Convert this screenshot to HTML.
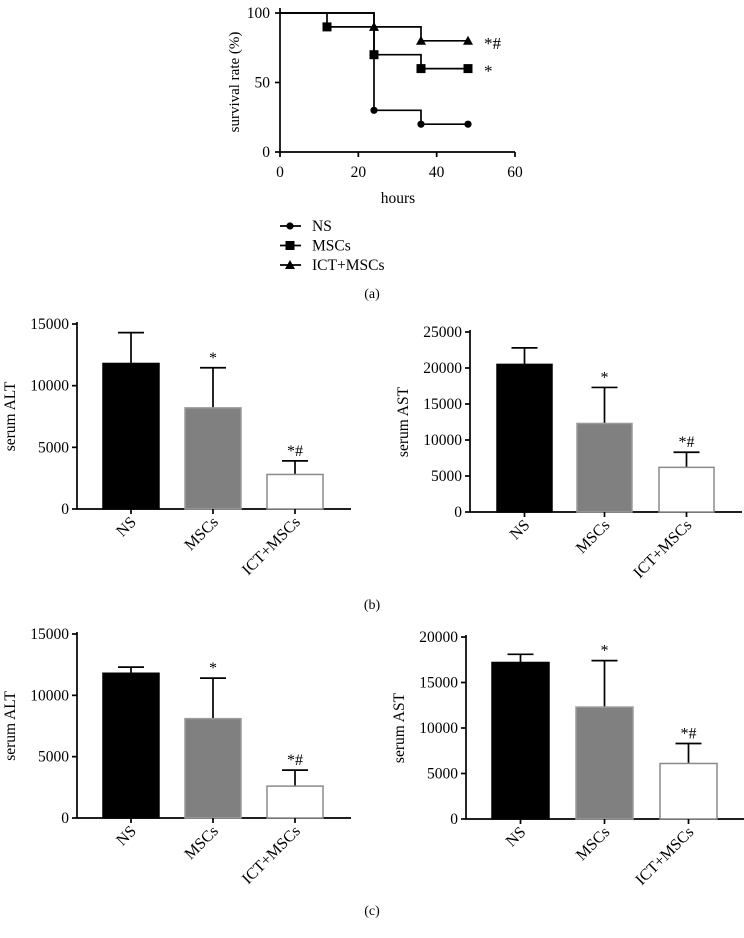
<!DOCTYPE html>
<html><head><meta charset="utf-8"><style>
html,body{margin:0;padding:0;background:#fff;}
svg{display:block;font-family:"Liberation Serif",serif;}
</style></head><body>
<svg id="s" width="744" height="938" viewBox="0 0 744 938"></svg>
<script>
// Survival data
const survHours = [0,12,24,36,48];
const survNS = [100,100,30,20,20];
const survMSC = [100,90,70,60,60];
const survICT = [100,100,90,80,80];
const survLabels = ["NS","MSCs","ICT+MSCs"];
const survAnn = ["","*","*#"];
const xTicks = [0,20,40,60];
const yTicks = [0,50,100];
// Bar data
const barCats = ["NS","MSCs","ICT+MSCs"];
const bAltVals = [11800,8200,2800];
const bAltErr = [2500,3250,1100];
const bAstVals = [20500,12300,6200];
const bAstErr = [2300,5000,2100];
const cAltVals = [11800,8100,2600];
const cAltErr = [500,3300,1300];
const cAstVals = [17200,12300,6100];
const cAstErr = [900,5100,2200];
const barAnn = ["","*","*#"];

const NS="http://www.w3.org/2000/svg";
const svg=document.getElementById('s');
function el(tag,attrs,parent,text){const e=document.createElementNS(NS,tag);for(const k in attrs)e.setAttribute(k,attrs[k]);if(text!==undefined)e.textContent=text;(parent||svg).appendChild(e);return e;}
const SW=1.7;
// ---- Survival chart ----
const sx=v=>280+v*(515-280)/60;
const sy=v=>152-v*(152-13)/100;
const gS=el('g',{});


el('line',{x1:280,y1:8,x2:280,y2:152,stroke:'#000','stroke-width':SW},gS);
el('line',{x1:280,y1:152,x2:515,y2:152,stroke:'#000','stroke-width':SW},gS);
yTicks.forEach(t=>{el('line',{x1:275,y1:sy(t),x2:280,y2:sy(t),stroke:'#000','stroke-width':SW},gS);
 const tx=el('text',{x:270,y:sy(t)+5,'text-anchor':'end','font-size':15.5},gS,String(t));});
xTicks.forEach(t=>{el('line',{x1:sx(t),y1:152,x2:sx(t),y2:157,stroke:'#000','stroke-width':SW},gS);
 const tx=el('text',{x:sx(t),y:177,'text-anchor':'middle','font-size':15.5},gS,String(t));});
const yt=el('text',{x:0,y:0,'text-anchor':'middle','font-size':15,transform:'translate(239,82) rotate(-90)'},gS,'survival rate (%)');

const xt=el('text',{x:398,y:203,'text-anchor':'middle','font-size':15.5},gS,'hours');

function marker(type,x,y,p){
 if(type==0)return el('circle',{cx:x,cy:y,r:3.6,fill:'#000'},p);
 if(type==1)return el('rect',{x:x-4.5,y:y-4.5,width:9,height:9,fill:'#000'},p);
 return el('polygon',{points:`${x},${y-5} ${x-5},${y+4} ${x+5},${y+4}`,fill:'#000'},p);
}
[survNS,survMSC,survICT].forEach((ser,si)=>{
 let d=`M${sx(survHours[0])},${sy(ser[0])}`;
 for(let i=1;i<survHours.length;i++){d+=` H${sx(survHours[i])} V${sy(ser[i])}`;}
 const g=el('g',{},gS);
 
 
 el('path',{d:d,fill:'none',stroke:'#000','stroke-width':SW},g);
 for(let i=1;i<survHours.length;i++){if(ser[i]!==ser[i-1]||i==survHours.length-1)marker(si,sx(survHours[i]),sy(ser[i]),g);}
 if(survAnn[si]){const a=el('text',{x:sx(48)+16,y:sy(ser[ser.length-1])+8,'font-size':17},g,survAnn[si]);}
});
// legend
survLabels.forEach((lab,i)=>{
 const y=226+i*19.5;
 const g=el('g',{},svg);
 
 
 el('line',{x1:280,y1:y,x2:301,y2:y,stroke:'#000','stroke-width':SW},g);
 marker(i,290,y,g);
 el('text',{x:312,y:y+5,'font-size':15.5},g,lab);
});
const pa=el('text',{x:372,y:298,'text-anchor':'middle','font-size':14},svg,'(a)');


// ---- Bar charts ----
function barChart(cfg,vals,errs,name){
 const g=el('g',{});
 
 
 const y=v=>cfg.y0-v*(cfg.y0-cfg.yTop)/cfg.max;
 el('line',{x1:cfg.ax,y1:cfg.yTop-2,x2:cfg.ax,y2:cfg.y0,stroke:'#000','stroke-width':SW},g);
 el('line',{x1:cfg.ax,y1:cfg.y0,x2:cfg.axEnd,y2:cfg.y0,stroke:'#000','stroke-width':SW},g);
 for(let t=0;t<=cfg.max;t+=cfg.step){
  el('line',{x1:cfg.ax-5,y1:y(t),x2:cfg.ax,y2:y(t),stroke:'#000','stroke-width':SW},g);
  const tx=el('text',{x:cfg.ax-8,y:y(t)+5,'text-anchor':'end','font-size':15.5},g,String(t));
  
 }
 const yl=el('text',{x:0,y:0,'text-anchor':'middle','font-size':15.5,transform:`translate(${cfg.ax-62},${(cfg.y0+cfg.yTop)/2}) rotate(-90)`},g,cfg.title);
 
 const fills=['#000','#808080','#fff'],strokes=['#000','#9a9a9a','#8a8a8a'];
 vals.forEach((v,i)=>{
  const x0=cfg.bars[i],w=cfg.bw,cx=x0+w/2;
  const eb=el('line',{x1:cx,y1:y(v),x2:cx,y2:y(v+errs[i]),stroke:'#000','stroke-width':SW},g);
  
  el('line',{x1:cx-13,y1:y(v+errs[i]),x2:cx+13,y2:y(v+errs[i]),stroke:'#000','stroke-width':SW},g);
  const r=el('rect',{x:x0,y:y(v),width:w,height:cfg.y0-y(v),fill:fills[i],stroke:strokes[i],'stroke-width':1.5},g);
  
  
  el('line',{x1:cx,y1:cfg.y0,x2:cx,y2:cfg.y0+5,stroke:'#000','stroke-width':SW},g);
  const lab=el('text',{x:0,y:0,'text-anchor':'end','font-size':16,transform:`translate(${cx+6},${cfg.y0+14}) rotate(-45)`},g,barCats[i]);
  
  if(barAnn[i]){const a=el('text',{x:cx,y:y(v+errs[i])-5,'text-anchor':'middle','font-size':16},g,barAnn[i]);}
 });
}
barChart({ax:77,axEnd:351,yTop:324,y0:509,max:15000,step:5000,bars:[103,185,267],bw:56,title:'serum ALT'},bAltVals,bAltErr,'chart-b-alt');
barChart({ax:470,axEnd:742,yTop:332,y0:512,max:25000,step:5000,bars:[497,577,659],bw:55,title:'serum AST'},bAstVals,bAstErr,'chart-b-ast');
barChart({ax:77,axEnd:351,yTop:634,y0:818,max:15000,step:5000,bars:[103,185,267],bw:56,title:'serum ALT'},cAltVals,cAltErr,'chart-c-alt');
barChart({ax:466,axEnd:744,yTop:637,y0:819,max:20000,step:5000,bars:[492,576,660],bw:57,title:'serum AST'},cAstVals,cAstErr,'chart-c-ast');
const pb=el('text',{x:372,y:609,'text-anchor':'middle','font-size':14},svg,'(b)');

const pc=el('text',{x:372,y:915,'text-anchor':'middle','font-size':14},svg,'(c)');

</script>
</body></html>
